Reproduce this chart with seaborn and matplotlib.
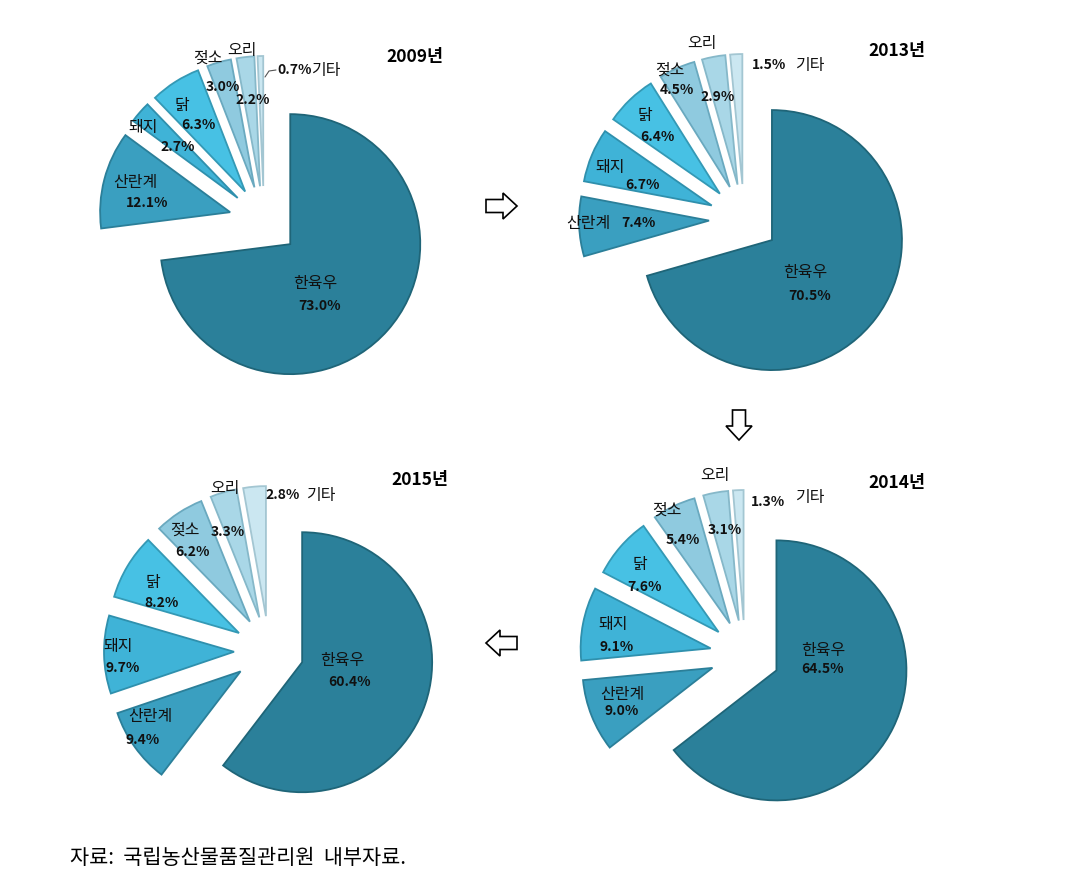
import matplotlib
matplotlib.use("Agg")
import matplotlib.pyplot as plt
from matplotlib.patches import Polygon
import seaborn as sns

# ---------------- data ----------------
categories = ["한육우", "산란계", "돼지", "닭", "젖소", "오리", "기타"]
years = ["2009년", "2013년", "2014년", "2015년"]
share_2009 = [73.0, 12.1, 2.7, 6.3, 3.0, 2.2, 0.7]
share_2013 = [70.5, 7.4, 6.7, 6.4, 4.5, 2.9, 1.5]
share_2014 = [64.5, 9.0, 9.1, 7.6, 5.4, 3.1, 1.3]
share_2015 = [60.4, 9.4, 9.7, 8.2, 6.2, 3.3, 2.8]
source_note = "자료:  국립농산물품질관리원  내부자료."

# ---------------- style ----------------
sns.set_style("white")
plt.rcParams['font.family'] = ['Noto Sans CJK KR', 'DejaVu Sans']

W, H = 1079, 896
fig = plt.figure(figsize=(W / 100, H / 100), dpi=100)
ax = fig.add_axes([0, 0, 1, 1])

colors = sns.color_palette(["#2b809a", "#3a9fc0", "#3fb3d7", "#47c1e4",
                            "#8fcadf", "#a9d7e7", "#cbe7f1"])
edge_colors = sns.color_palette(["#1f6578", "#2b7f99", "#2f90ad", "#3499b5",
                                 "#6aa9bf", "#86b8c9", "#a3c6d2"])

R = 130
EXPLODE = 35  # offset in pixels (data units)

# pie centres (pixel coords, y down)
centers = {"2009년": (264, 221), "2013년": (744, 219),
           "2014년": (745, 655), "2015년": (269, 651)}
shares = {"2009년": share_2009, "2013년": share_2013,
          "2014년": share_2014, "2015년": share_2015}
title_pos = {"2009년": (415, 57), "2013년": (897, 51),
             "2014년": (897, 483), "2015년": (420, 480)}

# label layout: (name pos, value pos) per category, pixel coords
label_pos = {
    "2009년": [((315, 283), (320, 306)), ((135, 182), (147, 203)),
              ((143, 127), (178, 147)), ((182, 105), (198, 125)),
              ((208, 58), (223, 87)), ((242, 50), (253, 100)), None],
    "2013년": [((805, 272), (810, 296)), None,
              ((610, 167), (642, 185)), ((645, 115), (657, 137)),
              ((670, 70), (677, 90)), ((702, 43), (718, 97)), None],
    "2014년": [((823, 650), (823, 669)), ((622, 694), (622, 711)),
              ((613, 625), (617, 647)), ((640, 565), (645, 587)),
              ((667, 510), (683, 540)), ((715, 475), (725, 530)),
              ((810, 497), (768, 502))],
    "2015년": [((342, 660), (350, 682)), ((150, 716), (143, 740)),
              ((118, 647), (123, 668)), ((153, 583), (162, 603)),
              ((185, 530), (193, 552)), ((225, 488), (228, 532)), None],
}

NAME_FS = 11.5
VAL_FS = 10
NAME_W = 500
TXT = "#111111"


def Y(py):
    return H - py


for yr in years:
    cx, cy = centers[yr]
    vals = shares[yr]
    explode = [EXPLODE] * len(vals)
    wedges, _ = ax.pie(vals, colors=colors, explode=explode, startangle=90,
                       counterclock=False, radius=R, center=(cx, Y(cy)),
                       wedgeprops=dict(linewidth=1.3))
    for w, ec in zip(wedges, edge_colors):
        w.set_edgecolor(ec)
    tx, ty = title_pos[yr]
    ax.text(tx, Y(ty), yr, fontsize=12.5, fontweight="bold", ha="center",
            va="center", color="black")
    for cat, v, pos in zip(categories, vals, label_pos[yr]):
        if pos is None:
            continue
        (nx, ny), (vx, vy) = pos
        ax.text(nx, Y(ny), cat, fontsize=NAME_FS, fontweight=NAME_W,
                ha="center", va="center", color=TXT)
        ax.text(vx, Y(vy), f"{v:.1f}%", fontsize=VAL_FS, fontweight="bold",
                ha="center", va="center", color=TXT)

# special combined labels
ax.text(277, Y(70), f"{share_2009[6]:.1f}%", fontsize=VAL_FS, fontweight="bold",
        ha="left", va="center", color=TXT)
ax.text(311, Y(70), categories[6], fontsize=NAME_FS, fontweight=NAME_W,
        ha="left", va="center", color=TXT)
ax.plot([265, 269, 276], [Y(77), Y(71), Y(70)], color="#555555", lw=0.8)

ax.text(588, Y(223), categories[1], fontsize=NAME_FS, fontweight=NAME_W,
        ha="center", va="center", color=TXT)
ax.text(638, Y(223), f"{share_2013[1]:.1f}%", fontsize=VAL_FS, fontweight="bold",
        ha="center", va="center", color=TXT)

ax.text(752, Y(65), f"{share_2013[6]:.1f}%", fontsize=VAL_FS, fontweight="bold",
        ha="left", va="center", color=TXT)
ax.text(795, Y(65), categories[6], fontsize=NAME_FS, fontweight=NAME_W,
        ha="left", va="center", color=TXT)

ax.text(265, Y(495), f"{share_2015[6]:.1f}%", fontsize=VAL_FS, fontweight="bold",
        ha="left", va="center", color=TXT)
ax.text(306, Y(495), categories[6], fontsize=NAME_FS, fontweight=NAME_W,
        ha="left", va="center", color=TXT)


# ---------------- arrows ----------------
def arrow(x0, x1, yc, bh=6.5, hh=13, hl=14, vertical=False):
    d = 1 if x1 > x0 else -1
    xb = x1 - d * hl
    pts = [(x0, yc - bh), (xb, yc - bh), (xb, yc - hh), (x1, yc),
           (xb, yc + hh), (xb, yc + bh), (x0, yc + bh)]
    if vertical:
        pts = [(p[1], p[0]) for p in pts]
    pts = [(px, Y(py)) for px, py in pts]
    ax.add_patch(Polygon(pts, closed=True, facecolor="white",
                         edgecolor="black", lw=1.2))


arrow(486, 517, 206)
arrow(410, 440, 739, vertical=True)
arrow(517, 486, 643)

ax.text(70, Y(858), source_note, fontsize=15, ha="left", va="center",
        color="black")

ax.set_xlim(0, W)
ax.set_ylim(0, H)
ax.set_aspect("equal")
ax.axis("off")

fig.savefig("out.png", dpi=100)
